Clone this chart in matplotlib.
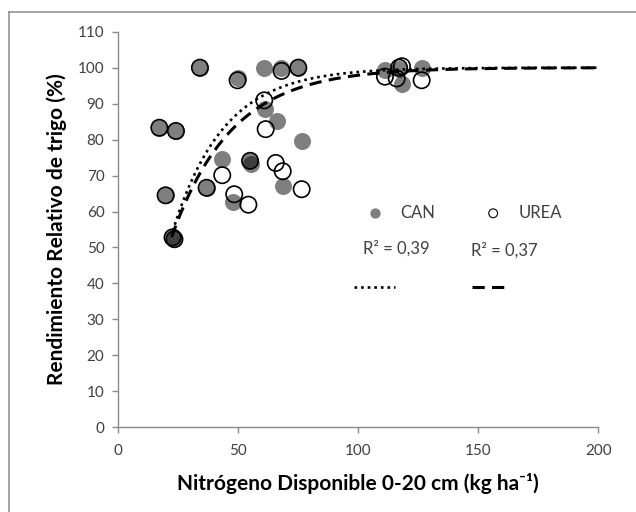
import matplotlib
matplotlib.use('Agg')
import matplotlib.pyplot as plt
from matplotlib.lines import Line2D
import numpy as np

plt.rcParams['font.family'] = ['Lato', 'DejaVu Sans']

# CAN points (N disponible, rendimiento relativo)
can_x = [34, 50, 60.8, 67.8, 75, 17.1, 24, 19.7, 22.6, 23.2, 36.8, 43.1, 47.9,
         54.9, 55.3, 61.1, 66, 68.5, 76.4, 111, 117, 118, 126.4]
can_y = [100, 97.1, 100, 100, 100, 83.3, 82.4, 64.5, 52.8, 52.3, 66.6, 74.5, 62.7,
         74.3, 73.2, 88.4, 85.1, 67.1, 79.6, 99.3, 99.5, 95.5, 100]

# UREA points
urea_x = [34, 49.7, 68, 75, 17.1, 24, 19.7, 22.6, 23.4, 36.8, 43.3, 48.3, 54.2,
          54.9, 60.8, 61.4, 65.6, 68.5, 76.4, 111.1, 116, 117, 118.2, 126.4]
urea_y = [100, 96.5, 99.1, 100, 83.3, 82.4, 64.5, 52.8, 52.3, 66.6, 70.1, 64.8, 61.9,
          74.1, 90.9, 82.9, 73.5, 71.2, 66.2, 97.5, 97, 100, 100.4, 96.5]

# fitted curves: y = plateau - b * exp(-k * x)
plateau = 100
can_b, can_k, can_x0 = 132, 0.047, 22.7
urea_b, urea_k, urea_x0 = 114.5, 0.040, 22.2
can_r2 = 'R² = 0,39'
urea_r2 = 'R² = 0,37'

fig = plt.figure(figsize=(6.36, 5.12), dpi=100)
ax = fig.add_axes([118.3/636, 1-427.3/512, 480/636, 395.6/512])

ax.scatter(can_x, can_y, s=150, color='black', alpha=0.5, linewidths=0, zorder=3)
ax.scatter(urea_x, urea_y, s=138, facecolors='none', edgecolors='black',
           linewidths=1.2, zorder=4)

xu = np.linspace(urea_x0, 200, 400)
ax.plot(xu, np.minimum(plateau, plateau - urea_b*np.exp(-urea_k*xu)), color='black',
        lw=2.2, linestyle=(0, (4, 2.4)), zorder=5)
xc = np.linspace(can_x0, 200, 400)
ax.plot(xc, np.minimum(plateau, plateau - can_b*np.exp(-can_k*xc)), color='black',
        lw=1.9, linestyle=(0, (1, 1.5)), zorder=6)

ax.set_xlim(0, 200)
ax.set_ylim(0, 110)
ax.set_xticks([0, 50, 100, 150, 200])
ax.set_yticks(range(0, 111, 10))
for s in ['top', 'right']:
    ax.spines[s].set_visible(False)
for s in ['left', 'bottom']:
    ax.spines[s].set_color('#8a8a8a')
    ax.spines[s].set_linewidth(1.0)
ax.tick_params(direction='out', length=4, width=1, color='#8a8a8a',
               labelsize=11, labelcolor='#404040')
ax.tick_params(axis='x', pad=8)
ax.tick_params(axis='y', pad=6)

ax.set_xlabel('Nitrógeno Disponible 0-20 cm (kg ha⁻¹)', fontsize=15,
              fontweight='bold', labelpad=11)
ax.set_ylabel('Rendimiento Relativo de trigo (%)', fontsize=15,
              fontweight='bold', labelpad=8)

# legend block (Excel style)
tr = ax.transAxes
ax.scatter([0.535], [0.541], s=55, color='black', alpha=0.5, linewidths=0,
           transform=tr, clip_on=False)
ax.text(0.587, 0.541, 'CAN', transform=tr, va='center', fontsize=12, color='#404040')
ax.scatter([0.781], [0.541], s=40, facecolors='none', edgecolors='black',
           linewidths=0.8, transform=tr, clip_on=False)
ax.text(0.833, 0.541, 'UREA', transform=tr, va='center', fontsize=12, color='#404040')
ax.text(0.510, 0.452, can_r2, transform=tr, va='center', fontsize=12, color='#404040')
ax.text(0.735, 0.448, urea_r2, transform=tr, va='center', fontsize=12, color='#404040')
ax.add_line(Line2D([0.490, 0.576], [0.354, 0.354], transform=tr, color='black',
                   lw=1.9, linestyle=(0, (1, 1.5))))
ax.add_line(Line2D([0.736, 0.807], [0.354, 0.354], transform=tr, color='black',
                   lw=2.2, linestyle=(0, (4, 2.4))))

# outer frame
fig.add_artist(Line2D([8.5/636, 8.5/636], [0, 1-11.7/512], color='#8c8c8c', lw=1.1))
fig.add_artist(Line2D([8.5/636, 1], [1-11.7/512, 1-11.7/512], color='#8c8c8c', lw=1.1))

fig.savefig('out.png', dpi=100, facecolor='white')
